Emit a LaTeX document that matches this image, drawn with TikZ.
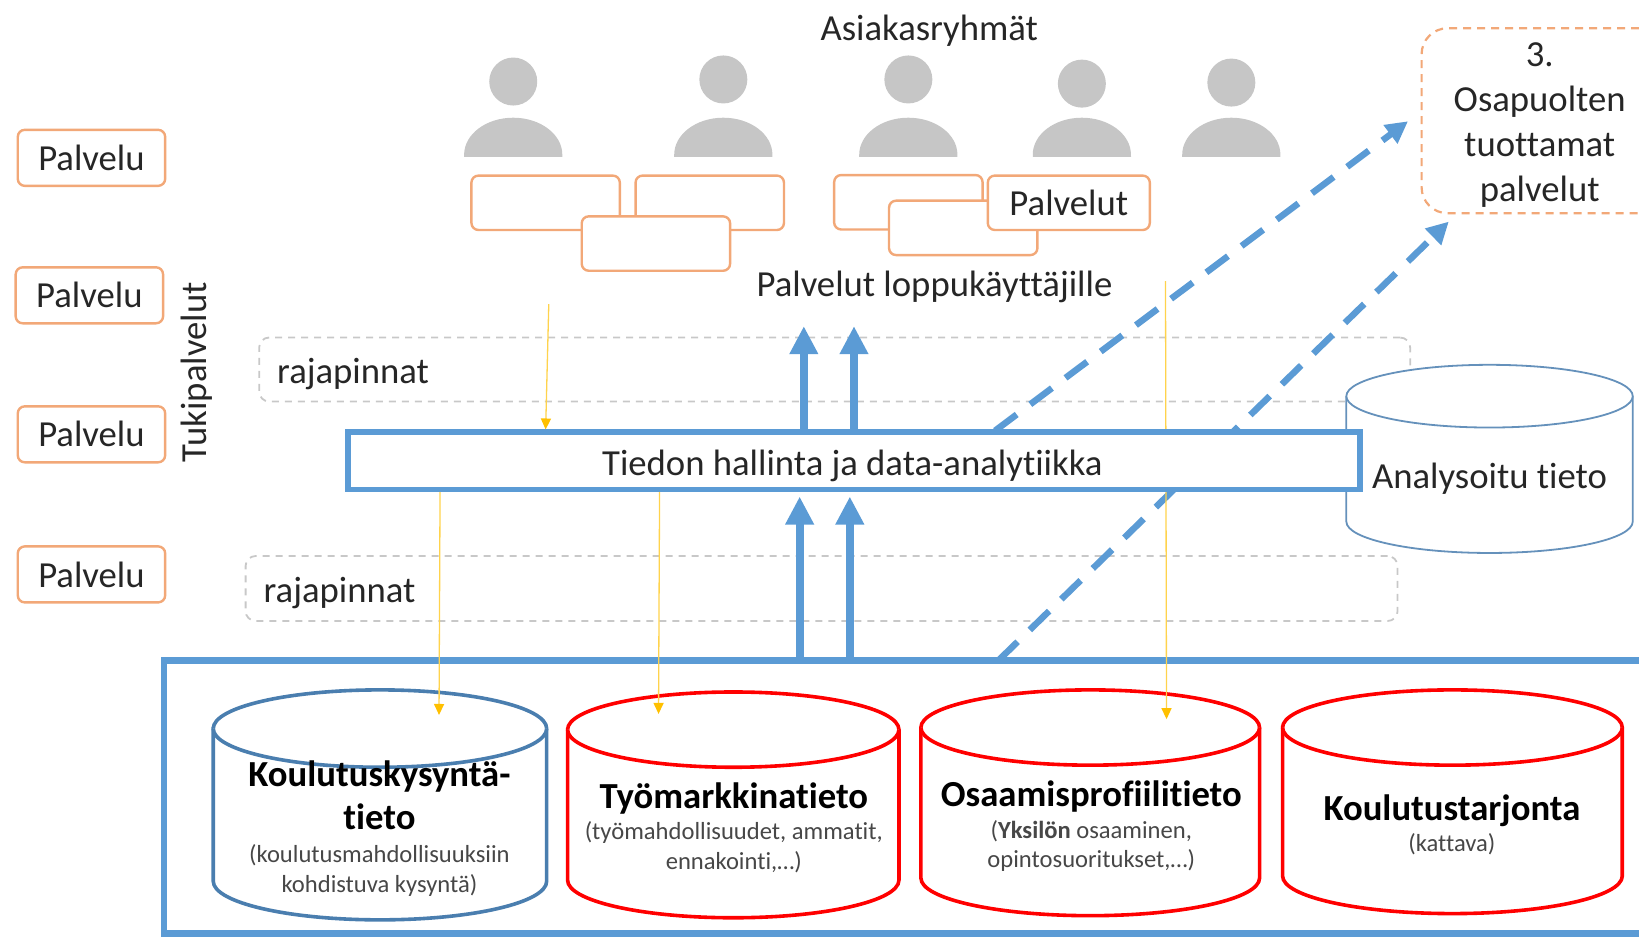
\documentclass[tikz,border=0pt]{standalone}
\usepackage{fontspec}
\setmainfont{Carlito}[Ligatures=NoCommon]
\usetikzlibrary{arrows.meta}
\definecolor{orangeline}{HTML}{F2A878}
\definecolor{blueline}{HTML}{5B9BD5}
\definecolor{steelline}{HTML}{4A7EAF}
\definecolor{yellowline}{HTML}{FFC000}
\definecolor{grayfig}{HTML}{C6C6C6}
\definecolor{graydash}{HTML}{C8C8C8}
\definecolor{ink}{HTML}{262626}
\definecolor{redline}{HTML}{FF0000}
\pgfdeclarelayer{front}
\pgfsetlayers{main,front}
\tikzset{
  x=1.0453pt,y=-1.0453pt,
  txt/.style={text=ink,font=\fontsize{36.7}{45}\selectfont,align=center,inner sep=0pt},
  title/.style={text=black,font=\fontsize{36.7}{43}\selectfont\bfseries,align=center,inner sep=0pt},
  subtxt/.style={text=ink!85,font=\fontsize{24.6}{29.5}\selectfont,align=center,inner sep=0pt},
  svc/.style={draw=orangeline,line width=2.4pt,rounded corners=7pt,fill=white,inner sep=0pt,text=ink,font=\fontsize{36.7}{40}\selectfont},
  palv/.style={svc,minimum width=147.4pt,minimum height=56pt},
  blank/.style={svc,minimum width=148.4pt,minimum height=54.4pt},
  raja/.style={draw=graydash,line width=1.8pt,dash pattern=on 7pt off 6pt,rounded corners=10pt,minimum width=1151pt,minimum height=64pt,inner sep=0pt},
  flow/.style={draw=blueline,line width=8pt,-{Triangle[length=28pt,width=27pt]}},
  dflow/.style={draw=blueline,line width=6.5pt,dash pattern=on 27pt off 17pt,-{Triangle[length=22pt,width=22pt]}},
  yarrow/.style={draw=yellowline!70!white,line width=1.3pt,-{Triangle[length=11pt,width=10pt,color=yellowline]}},
  cylblue/.style={draw=steelline,line width=3.6pt,fill=white},
  cylred/.style={draw=redline,line width=3.6pt,fill=white},
  cylthin/.style={draw=steelline!85!white,line width=1.8pt,fill=white},
}
% person figure: centre x, head centre y
\newcommand{\personfig}[2]{%
  \fill[grayfig] (#1,#2) circle (24pt);
  \fill[grayfig] (#1-47,150) -- (#1-47,148) arc[start angle=180,end angle=0,x radius=49.1pt,y radius=37pt] -- (#1+47,150) -- cycle;
}
% cylinder: style, left, right, top, bottom, ellipse half-height (in picture units)
\newcommand{\dbcyl}[6]{%
  \draw[#1] (#2,#4+#6) -- (#2,#5-#6) arc[start angle=180,end angle=360,x radius={(#3-#2)/2*1.0453pt},y radius={#6*1.0453pt}] -- (#3,#4+#6)
    arc[start angle=0,end angle=180,x radius={(#3-#2)/2*1.0453pt},y radius={#6*1.0453pt}] -- cycle;
  \draw[#1] (#2,#4+#6) arc[start angle=180,end angle=360,x radius={(#3-#2)/2*1.0453pt},y radius={#6*1.0453pt}];
}
\newcommand{\lowered}[1]{\raisebox{-1pt}{#1}}
\begin{document}
\begin{tikzpicture}
\path[use as bounding box,clip] (0,0) rectangle (1568,905);

% hub sits above everything that passes behind it
\begin{pgfonlayer}{front}
\node[draw=blueline,line width=5.5pt,fill=white,minimum width=1012pt,minimum height=57.5pt,inner sep=0pt] (hub) at (817,441) {};
\node[txt] (hubt) at (815.5,446) {Tiedon hallinta ja data-analytiikka};
\end{pgfonlayer}

% interface bands
\node[raja] (raja1) at (798.5,353.5) {};
\node[txt,anchor=west] (raja1t) at (265,358) {rajapinnat};
\node[raja,minimum height=65pt,minimum width=1152pt] (raja2) at (786,563) {};
\node[txt,anchor=west] (raja2t) at (252,567) {rajapinnat};

% analysed data
\dbcyl{cylthin}{1288}{1562}{349}{529}{30}
\node[txt] (anal) at (1425,458) {Analysoitu tieto};

% bottom frame
\node[draw=blueline,line width=6.5pt,minimum width=1613pt,minimum height=273pt,inner sep=0pt] (base) at (928.5,762.5) {};

% free ends
\coordinate (u1) at (769,312);
\coordinate (u2) at (817,312);
\coordinate (l1) at (765,475);
\coordinate (l2) at (813,475);
\coordinate (ds1) at (952,412);
\coordinate (de1) at (1347,116);
\coordinate (ds2) at (955,632);
\coordinate (de2) at (1386,212);
\coordinate (ya) at (525,291);
\coordinate (yb) at (421,469);
\coordinate (yc) at (631,469);
\coordinate (yd) at (1115,269);
\coordinate (ye1) at (420,684);
\coordinate (ye2) at (630,683);
\coordinate (ye3) at (1116,688);

% flows
\draw[flow] (hub.north -| u1) -- (u1);
\draw[flow] (hub.north -| u2) -- (u2);
\draw[flow] (base.north -| l1) -- (l1);
\draw[flow] (base.north -| l2) -- (l2);
\draw[dflow] (ds1) -- (de1);
\draw[dflow] (ds2) -- (de2);

% databases
\dbcyl{cylblue}{204}{523}{660}{880}{37}
\dbcyl{cylred}{543}{860}{662}{878}{36}
\dbcyl{cylred}{881}{1205}{660}{876}{36}
\dbcyl{cylred}{1227}{1552}{660}{874}{36}

\node[title] (k1) at (363,761) {Koulutuskysyntä-\\tieto};
\node[subtxt] (k2) at (363,833) {(koulutusmahdollisuuksiin\\kohdistuva kysyntä)};
\node[title] (t1) at (702,764) {Työmarkkinatieto};
\node[subtxt] (t2) at (702,810.5) {(työmahdollisuudet, ammatit,\\ennakointi,…)};
\node[title] (o1) at (1044,762) {Osaamisprofiilitieto};
\node[subtxt] (o2) at (1044,809.5) {(\textbf{Yksilön} osaaminen,\\opintosuoritukset,…)};
\node[title] (r1) at (1389,775.5) {Koulutustarjonta};
\node[subtxt] (r2) at (1389,808) {(kattava)};

% information links
\draw[yarrow] (ya) -- (hub.north -| 522,0);
\draw[yarrow] (yb) -- (ye1);
\draw[yarrow] (yc) -- (ye2);
\draw[yarrow] (yd) -- (ye3);

% side services
\node[palv] (p1) at (87.5,151) {\lowered{Palvelu}};
\node[palv] (p2) at (85.5,282.5) {\lowered{Palvelu}};
\node[palv] (p3) at (87.5,415.5) {\lowered{Palvelu}};
\node[palv] (p4) at (87.5,549.5) {Palvelu};
\node[txt,rotate=90] (tuki) at (188,356) {Tukipalvelut};

% customer groups
\node[txt] (asi) at (889,29) {Asiakasryhmät};
\personfig{491}{78}
\personfig{692}{76}
\personfig{869}{76}
\personfig{1035}{80}
\personfig{1178}{79}

\node[blank] (b1) at (522,194) {};
\node[blank] (b2) at (679,194) {};
\node[blank] (b3) at (627.5,233) {};
\node[blank] (b4) at (869,193.5) {};
\node[blank] (b5) at (921.5,218) {};
\node[svc,minimum width=162pt,minimum height=54.4pt] (b6) at (1022.5,194) {\lowered{Palvelut}};
\node[txt] (loppu) at (894,274) {Palvelut loppukäyttäjille};

% partner services
\node[draw=orangeline,line width=2.2pt,dash pattern=on 8pt off 6pt,rounded corners=26pt,minimum width=355.4pt,minimum height=185pt,inner sep=0pt] (osa) at (1530,115.5) {};
\node[txt] (osat) at (1473,120) {3.\\Osapuolten\\tuottamat\\palvelut};
\end{tikzpicture}
\end{document}
